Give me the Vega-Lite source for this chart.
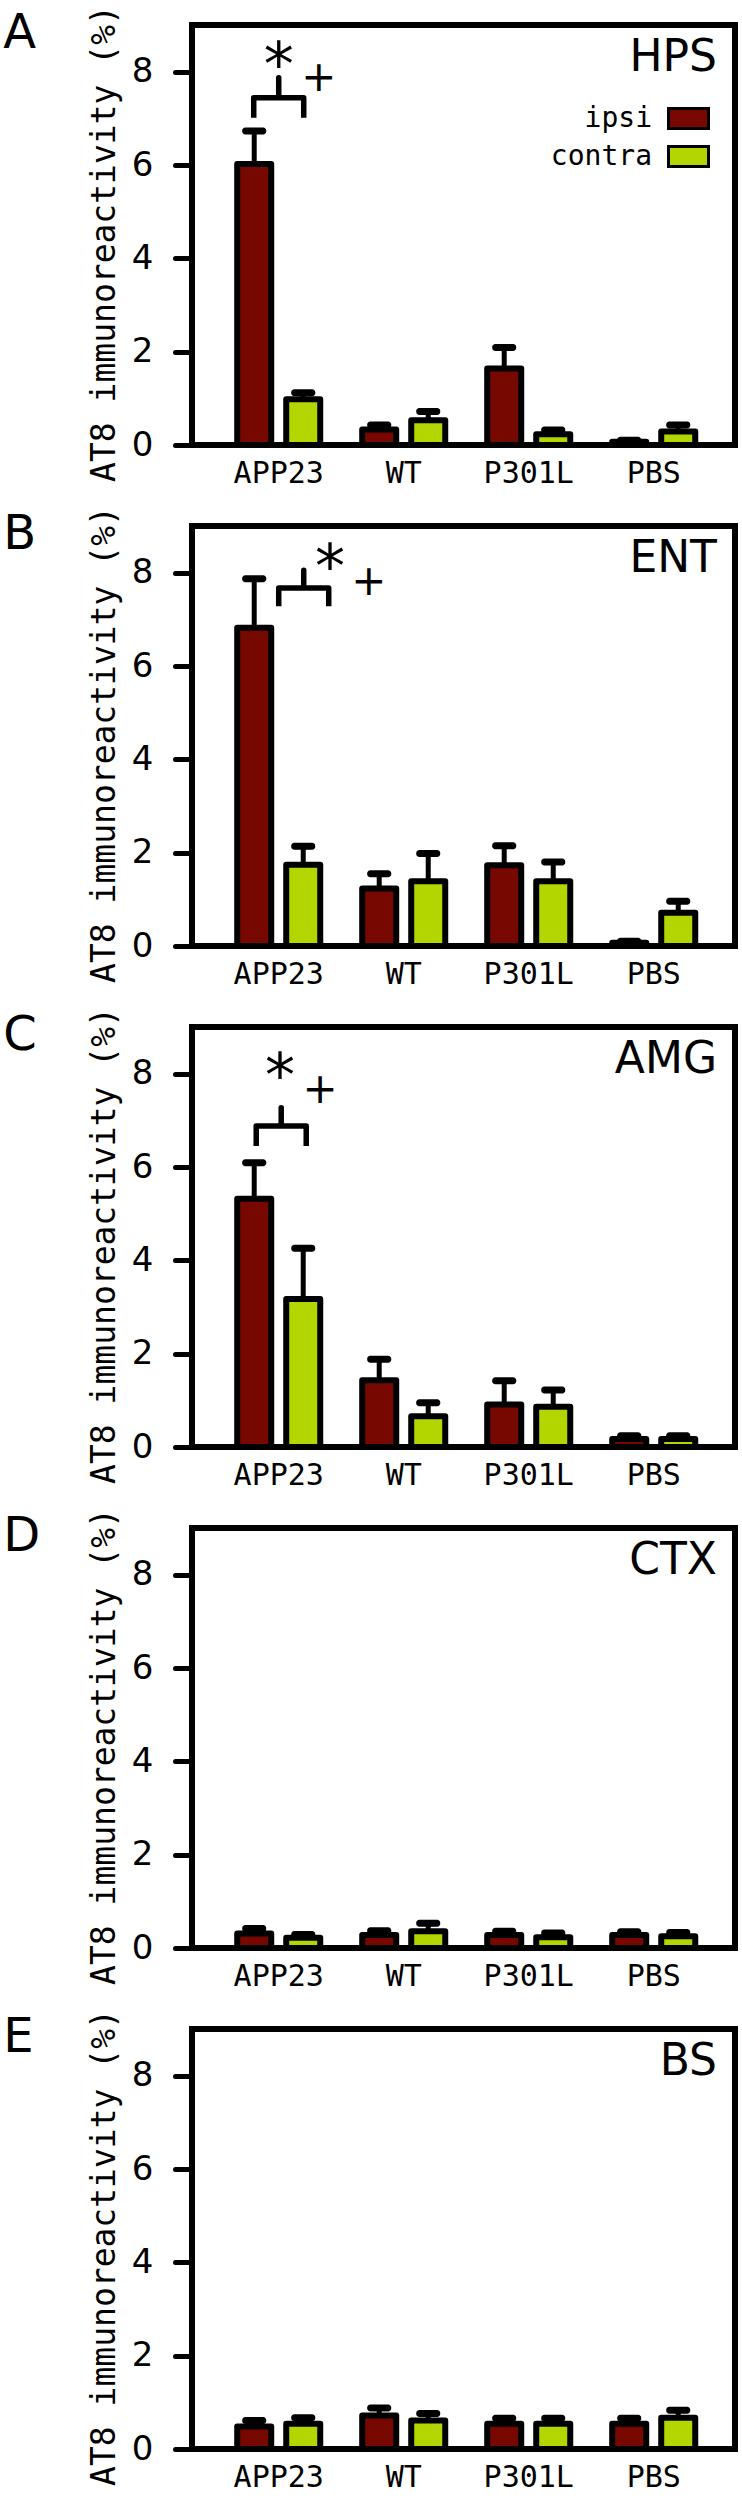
{
  "$schema": "https://vega.github.io/schema/vega-lite/v6.json",
  "background": "white",
  "padding": {"left": 3, "top": 1, "right": 5, "bottom": 0},
  "datasets": {
    "bars": [
      {"panel": "HPS", "group": "APP23", "side": "ipsi", "value": 6.02, "err": 6.73},
      {"panel": "HPS", "group": "APP23", "side": "contra", "value": 0.98, "err": 1.12},
      {"panel": "HPS", "group": "WT", "side": "ipsi", "value": 0.33, "err": 0.43},
      {"panel": "HPS", "group": "WT", "side": "contra", "value": 0.53, "err": 0.72},
      {"panel": "HPS", "group": "P301L", "side": "ipsi", "value": 1.64, "err": 2.09},
      {"panel": "HPS", "group": "P301L", "side": "contra", "value": 0.23, "err": 0.32},
      {"panel": "HPS", "group": "PBS", "side": "ipsi", "value": 0.07, "err": 0.1},
      {"panel": "HPS", "group": "PBS", "side": "contra", "value": 0.29, "err": 0.43},
      {"panel": "ENT", "group": "APP23", "side": "ipsi", "value": 6.82, "err": 7.87},
      {"panel": "ENT", "group": "APP23", "side": "contra", "value": 1.74, "err": 2.14},
      {"panel": "ENT", "group": "WT", "side": "ipsi", "value": 1.23, "err": 1.55},
      {"panel": "ENT", "group": "WT", "side": "contra", "value": 1.39, "err": 1.98},
      {"panel": "ENT", "group": "P301L", "side": "ipsi", "value": 1.73, "err": 2.15},
      {"panel": "ENT", "group": "P301L", "side": "contra", "value": 1.39, "err": 1.8},
      {"panel": "ENT", "group": "PBS", "side": "ipsi", "value": 0.07, "err": 0.1},
      {"panel": "ENT", "group": "PBS", "side": "contra", "value": 0.71, "err": 0.96},
      {"panel": "AMG", "group": "APP23", "side": "ipsi", "value": 5.32, "err": 6.09},
      {"panel": "AMG", "group": "APP23", "side": "contra", "value": 3.17, "err": 4.26},
      {"panel": "AMG", "group": "WT", "side": "ipsi", "value": 1.43, "err": 1.88},
      {"panel": "AMG", "group": "WT", "side": "contra", "value": 0.66, "err": 0.95},
      {"panel": "AMG", "group": "P301L", "side": "ipsi", "value": 0.91, "err": 1.42},
      {"panel": "AMG", "group": "P301L", "side": "contra", "value": 0.86, "err": 1.22},
      {"panel": "AMG", "group": "PBS", "side": "ipsi", "value": 0.17, "err": 0.24},
      {"panel": "AMG", "group": "PBS", "side": "contra", "value": 0.17, "err": 0.24},
      {"panel": "CTX", "group": "APP23", "side": "ipsi", "value": 0.31, "err": 0.42},
      {"panel": "CTX", "group": "APP23", "side": "contra", "value": 0.22, "err": 0.29},
      {"panel": "CTX", "group": "WT", "side": "ipsi", "value": 0.28, "err": 0.37},
      {"panel": "CTX", "group": "WT", "side": "contra", "value": 0.36, "err": 0.53},
      {"panel": "CTX", "group": "P301L", "side": "ipsi", "value": 0.28, "err": 0.36},
      {"panel": "CTX", "group": "P301L", "side": "contra", "value": 0.23, "err": 0.32},
      {"panel": "CTX", "group": "PBS", "side": "ipsi", "value": 0.28, "err": 0.35},
      {"panel": "CTX", "group": "PBS", "side": "contra", "value": 0.25, "err": 0.33},
      {"panel": "BS", "group": "APP23", "side": "ipsi", "value": 0.48, "err": 0.61},
      {"panel": "BS", "group": "APP23", "side": "contra", "value": 0.54, "err": 0.67},
      {"panel": "BS", "group": "WT", "side": "ipsi", "value": 0.72, "err": 0.88},
      {"panel": "BS", "group": "WT", "side": "contra", "value": 0.61, "err": 0.76},
      {"panel": "BS", "group": "P301L", "side": "ipsi", "value": 0.54, "err": 0.66},
      {"panel": "BS", "group": "P301L", "side": "contra", "value": 0.54, "err": 0.66},
      {"panel": "BS", "group": "PBS", "side": "ipsi", "value": 0.54, "err": 0.66},
      {"panel": "BS", "group": "PBS", "side": "contra", "value": 0.67, "err": 0.83}
    ],
    "brackets": [
      {"panel": "HPS", "group": "APP23", "k": 1, "pos": -1, "y": 7.01},
      {"panel": "HPS", "group": "APP23", "k": 2, "pos": -1, "y": 7.44},
      {"panel": "HPS", "group": "APP23", "k": 3, "pos": 0, "y": 7.44},
      {"panel": "HPS", "group": "APP23", "k": 4, "pos": 0, "y": 7.87},
      {"panel": "HPS", "group": "APP23", "k": 5, "pos": 0, "y": 7.44},
      {"panel": "HPS", "group": "APP23", "k": 6, "pos": 1, "y": 7.44},
      {"panel": "HPS", "group": "APP23", "k": 7, "pos": 1, "y": 7.01},
      {"panel": "ENT", "group": "APP23", "k": 1, "pos": 0, "y": 7.28},
      {"panel": "ENT", "group": "APP23", "k": 2, "pos": 0, "y": 7.67},
      {"panel": "ENT", "group": "APP23", "k": 3, "pos": 1, "y": 7.67},
      {"panel": "ENT", "group": "APP23", "k": 4, "pos": 1, "y": 8.05},
      {"panel": "ENT", "group": "APP23", "k": 5, "pos": 1, "y": 7.67},
      {"panel": "ENT", "group": "APP23", "k": 6, "pos": 2, "y": 7.67},
      {"panel": "ENT", "group": "APP23", "k": 7, "pos": 2, "y": 7.28},
      {"panel": "AMG", "group": "APP23", "k": 1, "pos": -0.9, "y": 6.45},
      {"panel": "AMG", "group": "APP23", "k": 2, "pos": -0.9, "y": 6.88},
      {"panel": "AMG", "group": "APP23", "k": 3, "pos": 0.1, "y": 6.88},
      {"panel": "AMG", "group": "APP23", "k": 4, "pos": 0.1, "y": 7.27},
      {"panel": "AMG", "group": "APP23", "k": 5, "pos": 0.1, "y": 6.88},
      {"panel": "AMG", "group": "APP23", "k": 6, "pos": 1.1, "y": 6.88},
      {"panel": "AMG", "group": "APP23", "k": 7, "pos": 1.1, "y": 6.45}
    ],
    "sigs": [
      {"panel": "HPS", "group": "APP23", "sym": "*", "pos": 0, "y": 8.45},
      {"panel": "HPS", "group": "APP23", "sym": "+", "pos": 1.6, "y": 7.91},
      {"panel": "ENT", "group": "APP23", "sym": "*", "pos": 2.05, "y": 8.42},
      {"panel": "ENT", "group": "APP23", "sym": "+", "pos": 3.6, "y": 7.84},
      {"panel": "AMG", "group": "APP23", "sym": "*", "pos": 0.05, "y": 8.26},
      {"panel": "AMG", "group": "APP23", "sym": "+", "pos": 1.65, "y": 7.7}
    ]
  },
  "resolve": {"scale": {"fill": "independent"}, "legend": {"fill": "independent"}},
  "vconcat": [
    {
      "title": {"text": "A", "orient": "top", "anchor": "start", "frame": "bounds", "offset": -46, "baseline": "alphabetic", "dx": -82, "dy": 48, "font": "DejaVu Sans", "fontSize": 48, "fontWeight": "normal", "color": "black"},
      "resolve": {"scale": {"fill": "independent"}, "legend": {"fill": "independent"}},
      "vconcat": [
        {
          "width": 543, "height": 420,
          "title": {"text": "HPS", "orient": "top", "anchor": "end", "frame": "group", "offset": -45, "baseline": "alphabetic", "dx": -18, "dy": 65, "font": "DejaVu Sans", "fontSize": 44, "fontWeight": "normal", "color": "black"},
          "resolve": {"scale": {"xOffset": "independent"}},
          "layer": [
            {
              "data": {"name": "bars"},
              "transform": [{"filter": "datum.panel === 'HPS'"}],
              "mark": {"type": "bar", "stroke": "black", "strokeWidth": 6, "strokeJoin": "round"},
              "encoding": {
                "x": {"field": "group", "type": "nominal", "title": null, "sort": ["APP23", "WT", "P301L", "PBS"], "scale": {"domain": ["APP23", "WT", "P301L", "PBS"], "paddingInner": 0.2, "paddingOuter": 0.272, "align": 0.54}},
                "xOffset": {"field": "side", "type": "nominal", "sort": ["ipsi", "contra"], "scale": {"domain": ["ipsi", "contra"], "paddingInner": 0.306, "paddingOuter": 0.173}},
                "y": {"field": "value", "type": "quantitative", "title": "AT8 immunoreactivity (%)", "scale": {"domain": [0, 9], "nice": false}, "axis": {"values": [0, 2, 4, 6, 8]}},
                "fill": {"field": "side", "type": "nominal", "scale": {"domain": ["ipsi", "contra"], "range": ["#760800", "#b4d600"]},
                  "legend": {"orient": "none", "legendX": 475, "legendY": 72, "title": null, "padding": 0, "symbolType": "M-1,-0.5H1V0.5H-1Z", "symbolSize": 1600, "symbolStrokeColor": "black", "symbolStrokeWidth": 3, "symbolOpacity": 1, "labelFont": "DejaVu Sans Mono", "labelFontSize": 28, "labelColor": "black", "labelAlign": "right", "labelOffset": -58, "rowPadding": -4}}
              }
            },
            {
              "data": {"name": "bars"},
              "transform": [{"filter": "datum.panel === 'HPS'"}],
              "mark": {"type": "rule", "strokeWidth": 5, "color": "black"},
              "encoding": {
                "x": {"field": "group", "type": "nominal", "title": null},
                "xOffset": {"field": "side", "type": "nominal", "sort": ["ipsi", "contra"], "scale": {"domain": ["ipsi", "contra"], "paddingInner": 0.306, "paddingOuter": 0.173}},
                "y": {"field": "value", "type": "quantitative", "title": "AT8 immunoreactivity (%)"},
                "y2": {"field": "err"}
              }
            },
            {
              "data": {"name": "bars"},
              "transform": [{"filter": "datum.panel === 'HPS'"}],
              "mark": {"type": "tick", "thickness": 7, "size": 24, "color": "black", "opacity": 1, "cornerRadius": 3},
              "encoding": {
                "x": {"field": "group", "type": "nominal", "title": null},
                "xOffset": {"field": "side", "type": "nominal", "sort": ["ipsi", "contra"], "scale": {"domain": ["ipsi", "contra"], "paddingInner": 0.306, "paddingOuter": 0.173}},
                "y": {"field": "err", "type": "quantitative", "title": "AT8 immunoreactivity (%)"}
              }
            },
            {
              "data": {"name": "brackets"},
              "transform": [{"filter": "datum.panel === 'HPS'"}],
              "mark": {"type": "line", "strokeWidth": 5.5, "color": "black", "strokeJoin": "round"},
              "encoding": {
                "x": {"field": "group", "type": "nominal", "title": null},
                "xOffset": {"field": "pos", "type": "quantitative", "scale": {"domain": [-2, 2], "range": [0, 100], "nice": false, "zero": false}},
                "y": {"field": "y", "type": "quantitative", "title": "AT8 immunoreactivity (%)"},
                "order": {"field": "k", "type": "quantitative"}
              }
            },
            {
              "data": {"name": "sigs"},
              "transform": [{"filter": "datum.panel === 'HPS' && datum.sym === '*'"}],
              "mark": {"type": "text", "font": "DejaVu Sans", "fontSize": 60, "dy": 16, "color": "black", "baseline": "middle", "align": "center"},
              "encoding": {
                "x": {"field": "group", "type": "nominal", "title": null},
                "xOffset": {"field": "pos", "type": "quantitative", "scale": {"domain": [-2, 2], "range": [0, 100], "nice": false, "zero": false}},
                "y": {"field": "y", "type": "quantitative", "title": "AT8 immunoreactivity (%)"},
                "text": {"field": "sym"}
              }
            },
            {
              "data": {"name": "sigs"},
              "transform": [{"filter": "datum.panel === 'HPS' && datum.sym === '+'"}],
              "mark": {"type": "text", "font": "DejaVu Sans", "fontSize": 42, "dy": 2, "color": "black", "baseline": "middle", "align": "center"},
              "encoding": {
                "x": {"field": "group", "type": "nominal", "title": null},
                "xOffset": {"field": "pos", "type": "quantitative", "scale": {"domain": [-2, 2], "range": [0, 100], "nice": false, "zero": false}},
                "y": {"field": "y", "type": "quantitative", "title": "AT8 immunoreactivity (%)"},
                "text": {"field": "sym"}
              }
            }
          ]
        }
      ]
    },
    {
      "title": {"text": "B", "orient": "top", "anchor": "start", "frame": "bounds", "offset": -46, "baseline": "alphabetic", "dx": -82, "dy": 48, "font": "DejaVu Sans", "fontSize": 48, "fontWeight": "normal", "color": "black"},
      "resolve": {"scale": {"fill": "independent"}, "legend": {"fill": "independent"}},
      "vconcat": [
        {
          "width": 543, "height": 420,
          "title": {"text": "ENT", "orient": "top", "anchor": "end", "frame": "group", "offset": -45, "baseline": "alphabetic", "dx": -18, "dy": 65, "font": "DejaVu Sans", "fontSize": 44, "fontWeight": "normal", "color": "black"},
          "resolve": {"scale": {"xOffset": "independent"}},
          "layer": [
            {
              "data": {"name": "bars"},
              "transform": [{"filter": "datum.panel === 'ENT'"}],
              "mark": {"type": "bar", "stroke": "black", "strokeWidth": 6, "strokeJoin": "round"},
              "encoding": {
                "x": {"field": "group", "type": "nominal", "title": null, "sort": ["APP23", "WT", "P301L", "PBS"], "scale": {"domain": ["APP23", "WT", "P301L", "PBS"], "paddingInner": 0.2, "paddingOuter": 0.272, "align": 0.54}},
                "xOffset": {"field": "side", "type": "nominal", "sort": ["ipsi", "contra"], "scale": {"domain": ["ipsi", "contra"], "paddingInner": 0.306, "paddingOuter": 0.173}},
                "y": {"field": "value", "type": "quantitative", "title": "AT8 immunoreactivity (%)", "scale": {"domain": [0, 9], "nice": false}, "axis": {"values": [0, 2, 4, 6, 8]}},
                "fill": {"field": "side", "type": "nominal", "scale": {"domain": ["ipsi", "contra"], "range": ["#760800", "#b4d600"]}, "legend": null}
              }
            },
            {
              "data": {"name": "bars"},
              "transform": [{"filter": "datum.panel === 'ENT'"}],
              "mark": {"type": "rule", "strokeWidth": 5, "color": "black"},
              "encoding": {
                "x": {"field": "group", "type": "nominal", "title": null},
                "xOffset": {"field": "side", "type": "nominal", "sort": ["ipsi", "contra"], "scale": {"domain": ["ipsi", "contra"], "paddingInner": 0.306, "paddingOuter": 0.173}},
                "y": {"field": "value", "type": "quantitative", "title": "AT8 immunoreactivity (%)"},
                "y2": {"field": "err"}
              }
            },
            {
              "data": {"name": "bars"},
              "transform": [{"filter": "datum.panel === 'ENT'"}],
              "mark": {"type": "tick", "thickness": 7, "size": 24, "color": "black", "opacity": 1, "cornerRadius": 3},
              "encoding": {
                "x": {"field": "group", "type": "nominal", "title": null},
                "xOffset": {"field": "side", "type": "nominal", "sort": ["ipsi", "contra"], "scale": {"domain": ["ipsi", "contra"], "paddingInner": 0.306, "paddingOuter": 0.173}},
                "y": {"field": "err", "type": "quantitative", "title": "AT8 immunoreactivity (%)"}
              }
            },
            {
              "data": {"name": "brackets"},
              "transform": [{"filter": "datum.panel === 'ENT'"}],
              "mark": {"type": "line", "strokeWidth": 5.5, "color": "black", "strokeJoin": "round"},
              "encoding": {
                "x": {"field": "group", "type": "nominal", "title": null},
                "xOffset": {"field": "pos", "type": "quantitative", "scale": {"domain": [-2, 2], "range": [0, 100], "nice": false, "zero": false}},
                "y": {"field": "y", "type": "quantitative", "title": "AT8 immunoreactivity (%)"},
                "order": {"field": "k", "type": "quantitative"}
              }
            },
            {
              "data": {"name": "sigs"},
              "transform": [{"filter": "datum.panel === 'ENT' && datum.sym === '*'"}],
              "mark": {"type": "text", "font": "DejaVu Sans", "fontSize": 60, "dy": 16, "color": "black", "baseline": "middle", "align": "center"},
              "encoding": {
                "x": {"field": "group", "type": "nominal", "title": null},
                "xOffset": {"field": "pos", "type": "quantitative", "scale": {"domain": [-2, 2], "range": [0, 100], "nice": false, "zero": false}},
                "y": {"field": "y", "type": "quantitative", "title": "AT8 immunoreactivity (%)"},
                "text": {"field": "sym"}
              }
            },
            {
              "data": {"name": "sigs"},
              "transform": [{"filter": "datum.panel === 'ENT' && datum.sym === '+'"}],
              "mark": {"type": "text", "font": "DejaVu Sans", "fontSize": 42, "dy": 2, "color": "black", "baseline": "middle", "align": "center"},
              "encoding": {
                "x": {"field": "group", "type": "nominal", "title": null},
                "xOffset": {"field": "pos", "type": "quantitative", "scale": {"domain": [-2, 2], "range": [0, 100], "nice": false, "zero": false}},
                "y": {"field": "y", "type": "quantitative", "title": "AT8 immunoreactivity (%)"},
                "text": {"field": "sym"}
              }
            }
          ]
        }
      ]
    },
    {
      "title": {"text": "C", "orient": "top", "anchor": "start", "frame": "bounds", "offset": -46, "baseline": "alphabetic", "dx": -82, "dy": 48, "font": "DejaVu Sans", "fontSize": 48, "fontWeight": "normal", "color": "black"},
      "resolve": {"scale": {"fill": "independent"}, "legend": {"fill": "independent"}},
      "vconcat": [
        {
          "width": 543, "height": 420,
          "title": {"text": "AMG", "orient": "top", "anchor": "end", "frame": "group", "offset": -45, "baseline": "alphabetic", "dx": -18, "dy": 65, "font": "DejaVu Sans", "fontSize": 44, "fontWeight": "normal", "color": "black"},
          "resolve": {"scale": {"xOffset": "independent"}},
          "layer": [
            {
              "data": {"name": "bars"},
              "transform": [{"filter": "datum.panel === 'AMG'"}],
              "mark": {"type": "bar", "stroke": "black", "strokeWidth": 6, "strokeJoin": "round"},
              "encoding": {
                "x": {"field": "group", "type": "nominal", "title": null, "sort": ["APP23", "WT", "P301L", "PBS"], "scale": {"domain": ["APP23", "WT", "P301L", "PBS"], "paddingInner": 0.2, "paddingOuter": 0.272, "align": 0.54}},
                "xOffset": {"field": "side", "type": "nominal", "sort": ["ipsi", "contra"], "scale": {"domain": ["ipsi", "contra"], "paddingInner": 0.306, "paddingOuter": 0.173}},
                "y": {"field": "value", "type": "quantitative", "title": "AT8 immunoreactivity (%)", "scale": {"domain": [0, 9], "nice": false}, "axis": {"values": [0, 2, 4, 6, 8]}},
                "fill": {"field": "side", "type": "nominal", "scale": {"domain": ["ipsi", "contra"], "range": ["#760800", "#b4d600"]}, "legend": null}
              }
            },
            {
              "data": {"name": "bars"},
              "transform": [{"filter": "datum.panel === 'AMG'"}],
              "mark": {"type": "rule", "strokeWidth": 5, "color": "black"},
              "encoding": {
                "x": {"field": "group", "type": "nominal", "title": null},
                "xOffset": {"field": "side", "type": "nominal", "sort": ["ipsi", "contra"], "scale": {"domain": ["ipsi", "contra"], "paddingInner": 0.306, "paddingOuter": 0.173}},
                "y": {"field": "value", "type": "quantitative", "title": "AT8 immunoreactivity (%)"},
                "y2": {"field": "err"}
              }
            },
            {
              "data": {"name": "bars"},
              "transform": [{"filter": "datum.panel === 'AMG'"}],
              "mark": {"type": "tick", "thickness": 7, "size": 24, "color": "black", "opacity": 1, "cornerRadius": 3},
              "encoding": {
                "x": {"field": "group", "type": "nominal", "title": null},
                "xOffset": {"field": "side", "type": "nominal", "sort": ["ipsi", "contra"], "scale": {"domain": ["ipsi", "contra"], "paddingInner": 0.306, "paddingOuter": 0.173}},
                "y": {"field": "err", "type": "quantitative", "title": "AT8 immunoreactivity (%)"}
              }
            },
            {
              "data": {"name": "brackets"},
              "transform": [{"filter": "datum.panel === 'AMG'"}],
              "mark": {"type": "line", "strokeWidth": 5.5, "color": "black", "strokeJoin": "round"},
              "encoding": {
                "x": {"field": "group", "type": "nominal", "title": null},
                "xOffset": {"field": "pos", "type": "quantitative", "scale": {"domain": [-2, 2], "range": [0, 100], "nice": false, "zero": false}},
                "y": {"field": "y", "type": "quantitative", "title": "AT8 immunoreactivity (%)"},
                "order": {"field": "k", "type": "quantitative"}
              }
            },
            {
              "data": {"name": "sigs"},
              "transform": [{"filter": "datum.panel === 'AMG' && datum.sym === '*'"}],
              "mark": {"type": "text", "font": "DejaVu Sans", "fontSize": 60, "dy": 16, "color": "black", "baseline": "middle", "align": "center"},
              "encoding": {
                "x": {"field": "group", "type": "nominal", "title": null},
                "xOffset": {"field": "pos", "type": "quantitative", "scale": {"domain": [-2, 2], "range": [0, 100], "nice": false, "zero": false}},
                "y": {"field": "y", "type": "quantitative", "title": "AT8 immunoreactivity (%)"},
                "text": {"field": "sym"}
              }
            },
            {
              "data": {"name": "sigs"},
              "transform": [{"filter": "datum.panel === 'AMG' && datum.sym === '+'"}],
              "mark": {"type": "text", "font": "DejaVu Sans", "fontSize": 42, "dy": 2, "color": "black", "baseline": "middle", "align": "center"},
              "encoding": {
                "x": {"field": "group", "type": "nominal", "title": null},
                "xOffset": {"field": "pos", "type": "quantitative", "scale": {"domain": [-2, 2], "range": [0, 100], "nice": false, "zero": false}},
                "y": {"field": "y", "type": "quantitative", "title": "AT8 immunoreactivity (%)"},
                "text": {"field": "sym"}
              }
            }
          ]
        }
      ]
    },
    {
      "title": {"text": "D", "orient": "top", "anchor": "start", "frame": "bounds", "offset": -46, "baseline": "alphabetic", "dx": -82, "dy": 48, "font": "DejaVu Sans", "fontSize": 48, "fontWeight": "normal", "color": "black"},
      "resolve": {"scale": {"fill": "independent"}, "legend": {"fill": "independent"}},
      "vconcat": [
        {
          "width": 543, "height": 420,
          "title": {"text": "CTX", "orient": "top", "anchor": "end", "frame": "group", "offset": -45, "baseline": "alphabetic", "dx": -18, "dy": 65, "font": "DejaVu Sans", "fontSize": 44, "fontWeight": "normal", "color": "black"},
          "layer": [
            {
              "data": {"name": "bars"},
              "transform": [{"filter": "datum.panel === 'CTX'"}],
              "mark": {"type": "bar", "stroke": "black", "strokeWidth": 6, "strokeJoin": "round"},
              "encoding": {
                "x": {"field": "group", "type": "nominal", "title": null, "sort": ["APP23", "WT", "P301L", "PBS"], "scale": {"domain": ["APP23", "WT", "P301L", "PBS"], "paddingInner": 0.2, "paddingOuter": 0.272, "align": 0.54}},
                "xOffset": {"field": "side", "type": "nominal", "sort": ["ipsi", "contra"], "scale": {"domain": ["ipsi", "contra"], "paddingInner": 0.306, "paddingOuter": 0.173}},
                "y": {"field": "value", "type": "quantitative", "title": "AT8 immunoreactivity (%)", "scale": {"domain": [0, 9], "nice": false}, "axis": {"values": [0, 2, 4, 6, 8]}},
                "fill": {"field": "side", "type": "nominal", "scale": {"domain": ["ipsi", "contra"], "range": ["#760800", "#b4d600"]}, "legend": null}
              }
            },
            {
              "data": {"name": "bars"},
              "transform": [{"filter": "datum.panel === 'CTX'"}],
              "mark": {"type": "rule", "strokeWidth": 5, "color": "black"},
              "encoding": {
                "x": {"field": "group", "type": "nominal", "title": null},
                "xOffset": {"field": "side", "type": "nominal", "sort": ["ipsi", "contra"]},
                "y": {"field": "value", "type": "quantitative", "title": "AT8 immunoreactivity (%)"},
                "y2": {"field": "err"}
              }
            },
            {
              "data": {"name": "bars"},
              "transform": [{"filter": "datum.panel === 'CTX'"}],
              "mark": {"type": "tick", "thickness": 7, "size": 24, "color": "black", "opacity": 1, "cornerRadius": 3},
              "encoding": {
                "x": {"field": "group", "type": "nominal", "title": null},
                "xOffset": {"field": "side", "type": "nominal", "sort": ["ipsi", "contra"]},
                "y": {"field": "err", "type": "quantitative", "title": "AT8 immunoreactivity (%)"}
              }
            }
          ]
        }
      ]
    },
    {
      "title": {"text": "E", "orient": "top", "anchor": "start", "frame": "bounds", "offset": -46, "baseline": "alphabetic", "dx": -82, "dy": 48, "font": "DejaVu Sans", "fontSize": 48, "fontWeight": "normal", "color": "black"},
      "resolve": {"scale": {"fill": "independent"}, "legend": {"fill": "independent"}},
      "vconcat": [
        {
          "width": 543, "height": 420,
          "title": {"text": "BS", "orient": "top", "anchor": "end", "frame": "group", "offset": -45, "baseline": "alphabetic", "dx": -18, "dy": 65, "font": "DejaVu Sans", "fontSize": 44, "fontWeight": "normal", "color": "black"},
          "layer": [
            {
              "data": {"name": "bars"},
              "transform": [{"filter": "datum.panel === 'BS'"}],
              "mark": {"type": "bar", "stroke": "black", "strokeWidth": 6, "strokeJoin": "round"},
              "encoding": {
                "x": {"field": "group", "type": "nominal", "title": null, "sort": ["APP23", "WT", "P301L", "PBS"], "scale": {"domain": ["APP23", "WT", "P301L", "PBS"], "paddingInner": 0.2, "paddingOuter": 0.272, "align": 0.54}},
                "xOffset": {"field": "side", "type": "nominal", "sort": ["ipsi", "contra"], "scale": {"domain": ["ipsi", "contra"], "paddingInner": 0.306, "paddingOuter": 0.173}},
                "y": {"field": "value", "type": "quantitative", "title": "AT8 immunoreactivity (%)", "scale": {"domain": [0, 9], "nice": false}, "axis": {"values": [0, 2, 4, 6, 8]}},
                "fill": {"field": "side", "type": "nominal", "scale": {"domain": ["ipsi", "contra"], "range": ["#760800", "#b4d600"]}, "legend": null}
              }
            },
            {
              "data": {"name": "bars"},
              "transform": [{"filter": "datum.panel === 'BS'"}],
              "mark": {"type": "rule", "strokeWidth": 5, "color": "black"},
              "encoding": {
                "x": {"field": "group", "type": "nominal", "title": null},
                "xOffset": {"field": "side", "type": "nominal", "sort": ["ipsi", "contra"]},
                "y": {"field": "value", "type": "quantitative", "title": "AT8 immunoreactivity (%)"},
                "y2": {"field": "err"}
              }
            },
            {
              "data": {"name": "bars"},
              "transform": [{"filter": "datum.panel === 'BS'"}],
              "mark": {"type": "tick", "thickness": 7, "size": 24, "color": "black", "opacity": 1, "cornerRadius": 3},
              "encoding": {
                "x": {"field": "group", "type": "nominal", "title": null},
                "xOffset": {"field": "side", "type": "nominal", "sort": ["ipsi", "contra"]},
                "y": {"field": "err", "type": "quantitative", "title": "AT8 immunoreactivity (%)"}
              }
            }
          ]
        }
      ]
    }
  ],
  "config": {
    "font": "DejaVu Sans",
    "view": {"stroke": "black", "strokeWidth": 6},
    "concat": {"spacing": 11},
    "axisX": {"domain": false, "ticks": false, "grid": false, "labelFont": "DejaVu Sans Mono", "labelFontSize": 30, "labelColor": "black", "labelPadding": 13, "labelAngle": 0},
    "axisY": {"domain": false, "grid": false, "ticks": true, "tickSize": 17, "tickWidth": 5, "tickColor": "black", "tickCap": "round", "labelFont": "DejaVu Sans", "labelFontSize": 34, "labelColor": "black", "labelPadding": 22, "titleFont": "DejaVu Sans Mono", "titleFontSize": 33, "titleFontWeight": "normal", "titleColor": "black", "titlePadding": 10, "titleY": 218}
  }
}
